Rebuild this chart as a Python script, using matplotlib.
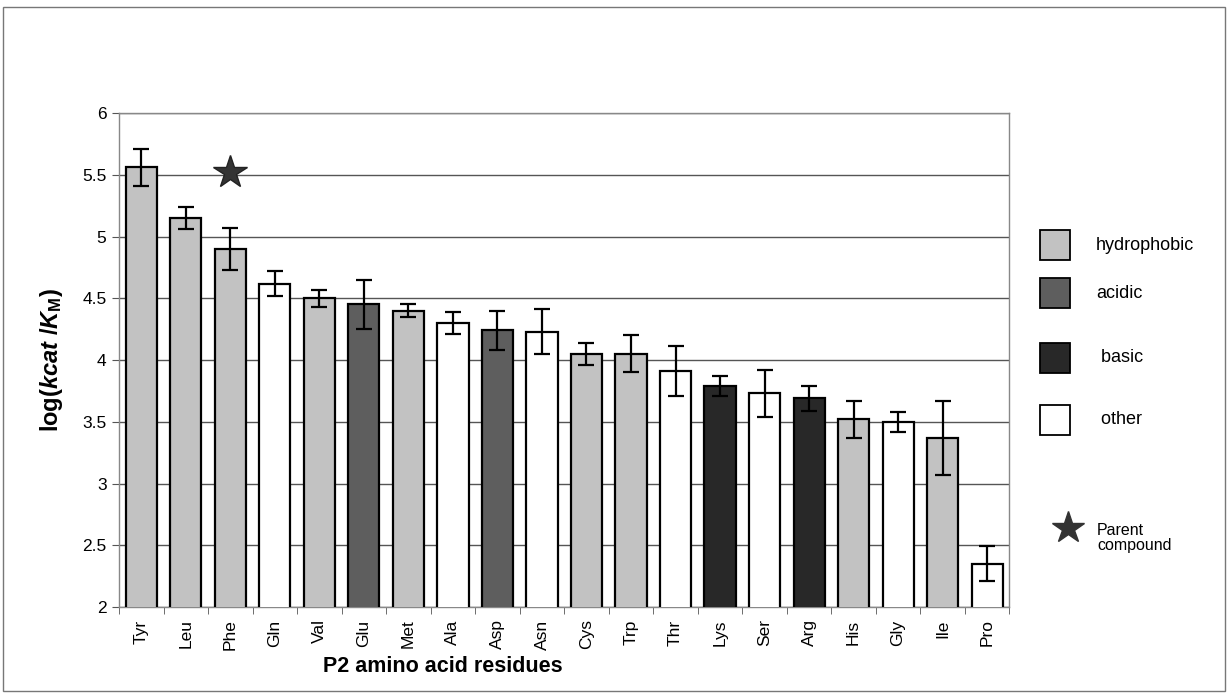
import matplotlib
matplotlib.use("Agg")
import matplotlib.pyplot as plt
from matplotlib.patches import Rectangle
from matplotlib.lines import Line2D
import numpy as np

residues = ["Tyr", "Leu", "Phe", "Gln", "Val", "Glu", "Met", "Ala", "Asp", "Asn",
            "Cys", "Trp", "Thr", "Lys", "Ser", "Arg", "His", "Gly", "Ile", "Pro"]
values = [5.56, 5.15, 4.90, 4.62, 4.50, 4.45, 4.40, 4.30, 4.24, 4.23,
          4.05, 4.05, 3.91, 3.79, 3.73, 3.69, 3.52, 3.50, 3.37, 2.35]
errors = [0.15, 0.09, 0.17, 0.10, 0.07, 0.20, 0.05, 0.09, 0.16, 0.18,
          0.09, 0.15, 0.20, 0.08, 0.19, 0.10, 0.15, 0.08, 0.30, 0.14]
groups = ["hydrophobic", "hydrophobic", "hydrophobic", "other", "hydrophobic", "acidic",
          "hydrophobic", "other", "acidic", "other", "hydrophobic", "hydrophobic", "other",
          "basic", "other", "basic", "hydrophobic", "other", "hydrophobic", "other"]
legend_names = ["hydrophobic", "acidic", " basic", " other"]
group_order = ["hydrophobic", "acidic", "basic", "other"]
parent_residue = "Phe"
parent_value = 5.52

colors = {"hydrophobic": "#c2c2c2", "acidic": "#5e5e5e", "basic": "#282828", "other": "#ffffff"}

plt.rcParams['font.family'] = ['Liberation Sans', 'DejaVu Sans']
plt.rcParams['mathtext.fontset'] = 'custom'
plt.rcParams['mathtext.rm'] = 'Liberation Sans'
plt.rcParams['mathtext.it'] = 'Liberation Sans:italic'
plt.rcParams['mathtext.bf'] = 'Liberation Sans:bold'
plt.rcParams['mathtext.bfit'] = 'Liberation Sans:bold:italic'

fig = plt.figure(figsize=(12.31, 6.94), dpi=100)
ax = fig.add_axes([0.0967, 0.1254, 0.7233, 0.7116])

x = np.arange(len(residues))
ax.bar(x, values, width=0.70, color=[colors[g] for g in groups], edgecolor="black",
       linewidth=1.6, zorder=3)
ax.errorbar(x, values, yerr=errors, fmt="none", ecolor="black", elinewidth=1.6,
            capsize=6, capthick=1.6, zorder=4)
px = residues.index(parent_residue)
ax.plot([px], [parent_value], marker="*", markersize=25, color="#333333",
        markeredgecolor="#222222", linestyle="none", zorder=5)

ax.set_ylim(2, 6)
ax.set_xlim(-0.5, len(residues) - 0.5)
ax.set_yticks(np.arange(2, 6.01, 0.5))
ax.set_yticklabels(["2", "2.5", "3", "3.5", "4", "4.5", "5", "5.5", "6"], fontsize=12.5)
ax.set_xticks(x)
ax.set_xticklabels(residues, rotation=90, fontsize=12.5)
ax.tick_params(axis="x", length=0, pad=9)
ax.set_xticks(np.arange(-0.5, len(residues), 1), minor=True)
ax.tick_params(axis="x", which="minor", length=5, direction="out", color="#555555")
ax.tick_params(axis="y", length=5, direction="out", color="#555555", pad=4)
ax.yaxis.grid(True, color="#555555", linewidth=1.0, zorder=0)
ax.set_axisbelow(True)
for s in ax.spines.values():
    s.set_color("#888888")
    s.set_linewidth(1.0)
    s.set_linestyle((0, (2, 1)))

ax.set_xlabel("P2 amino acid residues", fontsize=15.5, fontweight="bold")
ax.xaxis.set_label_coords((443 - 119) / 890, -(656 - 607) / 494)
ax.set_ylabel(r"$\mathbf{log(}\mathbfit{k}\mathbfit{cat}\ \mathbf{/}\mathbfit{K}\mathbf{_M)}$",
              fontsize=17, labelpad=12)

# legend
leg_y = [245, 293, 358, 420]
for name, g, yy in zip(legend_names, group_order, leg_y):
    yf = 1 - yy / 694
    fig.patches.append(Rectangle((1040 / 1231, yf - 15 / 694), 30 / 1231, 30 / 694,
                                 transform=fig.transFigure, facecolor=colors[g],
                                 edgecolor="black", linewidth=1.3))
    fig.text(1096 / 1231, yf, name, fontsize=13, va="center", ha="left")
fig.lines.append(Line2D([1068 / 1231], [1 - 528 / 694], marker="*", markersize=24,
                        color="#333333", transform=fig.transFigure))
fig.text(1097 / 1231, 1 - 538 / 694, "Parent\ncompound", fontsize=11.5, va="center",
         ha="left", linespacing=1.05)

# outer frame
fig.patches.append(Rectangle((3 / 1231, 3 / 694), 1222 / 1231, 684 / 694,
                             transform=fig.transFigure, facecolor="none",
                             edgecolor="#777777", linewidth=1.0))

fig.savefig("out.png", dpi=100)
